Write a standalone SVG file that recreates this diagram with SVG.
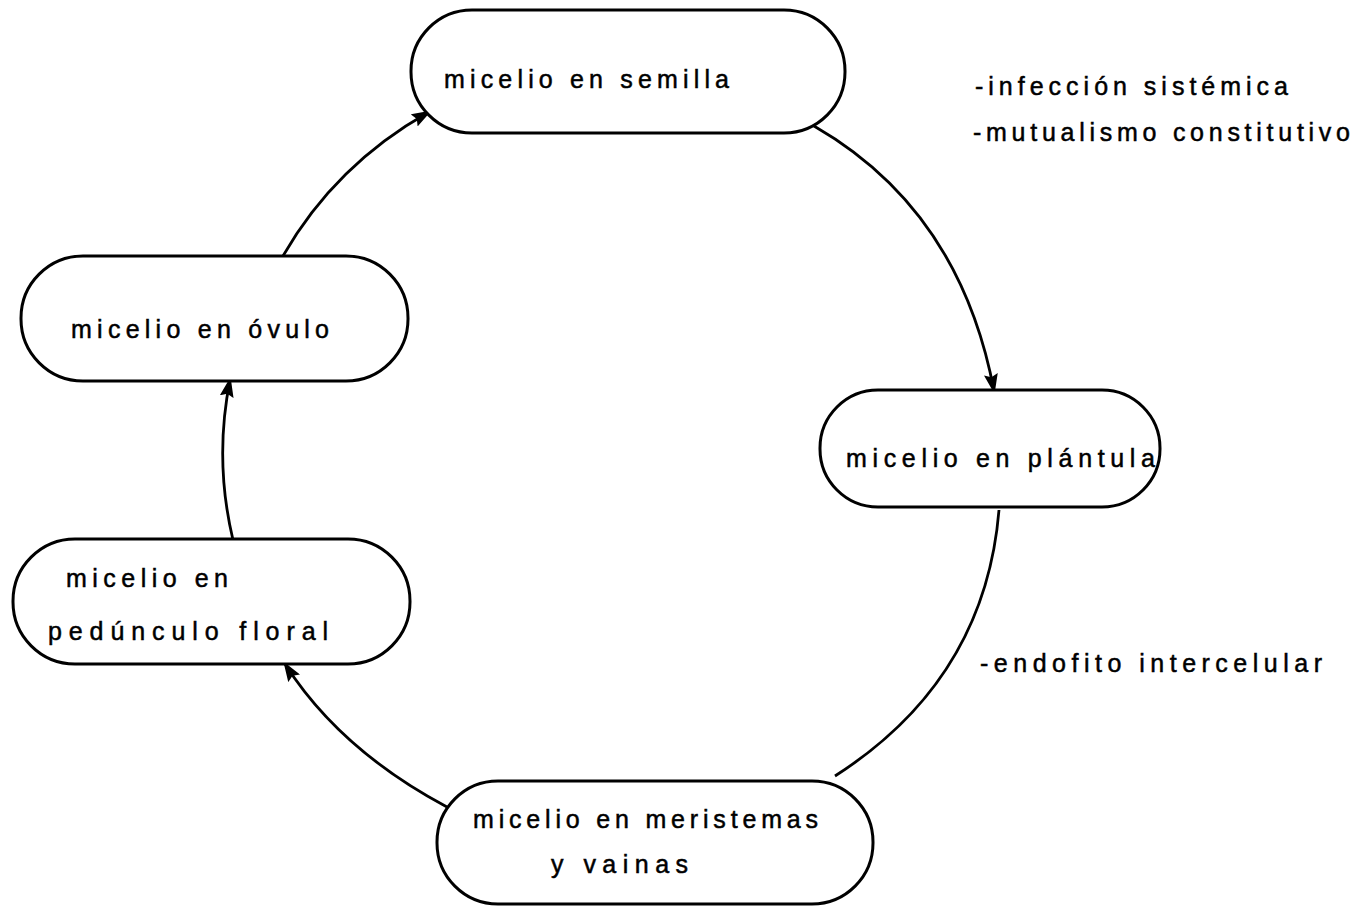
<svg xmlns="http://www.w3.org/2000/svg" width="1372" height="906" viewBox="0 0 1372 906">
<style>
.node{fill:#fff;stroke:#000;stroke-width:3}
.edge{fill:none;stroke:#000;stroke-width:2.8}
text{font-family:"Liberation Sans","DejaVu Sans",sans-serif;font-size:25px;fill:#000;stroke:#000;stroke-width:0.5}
</style>
<defs>
<marker id="arr" markerWidth="20" markerHeight="14" refX="17" refY="7" orient="auto" markerUnits="userSpaceOnUse">
<path d="M0,0 L20,7 L0,14 L3,7 Z" fill="#000"/>
</marker>
</defs>
<rect width="1372" height="906" fill="#fff"/>
<g id="connectors">
<path class="edge" d="M283,256 Q335,165 429,112" marker-end="url(#arr)"/>
<path class="edge" d="M814,126 Q960,210 994,391" marker-end="url(#arr)"/>
<path class="edge" d="M999,510 Q985,680 835,776"/>
<path class="edge" d="M447,807 Q340,750 285,664" marker-end="url(#arr)"/>
<path class="edge" d="M233,540 Q214,460 230,380" marker-end="url(#arr)"/>
</g>
<g id="node-semilla">
<rect class="node" x="411" y="10" width="434" height="123" rx="61" ry="61"/>
<text x="444" y="88" textLength="285" lengthAdjust="spacing">micelio en semilla</text>
</g>
<g id="node-ovulo">
<rect class="node" x="21" y="256" width="387" height="125" rx="62" ry="62"/>
<text x="71" y="338" textLength="258" lengthAdjust="spacing">micelio en óvulo</text>
</g>
<g id="node-plantula">
<rect class="node" x="820" y="390" width="340" height="117" rx="58" ry="58"/>
<text x="846" y="467" textLength="309" lengthAdjust="spacing">micelio en plántula</text>
</g>
<g id="node-pedunculo">
<rect class="node" x="13" y="539" width="397" height="125" rx="62" ry="62"/>
<text x="66" y="587" textLength="162" lengthAdjust="spacing">micelio en</text>
<text x="48" y="640" textLength="280" lengthAdjust="spacing">pedúnculo floral</text>
</g>
<g id="node-meristemas">
<rect class="node" x="437" y="781" width="436" height="123" rx="61" ry="61"/>
<text x="473" y="828" textLength="345" lengthAdjust="spacing">micelio en meristemas</text>
<text x="551" y="873" textLength="137" lengthAdjust="spacing">y vainas</text>
</g>
<g id="labels">
<text x="975" y="95" textLength="313" lengthAdjust="spacing">-infección sistémica</text>
<text x="973" y="141" textLength="377" lengthAdjust="spacing">-mutualismo constitutivo</text>
<text x="980" y="672" textLength="342" lengthAdjust="spacing">-endofito intercelular</text>
</g>
</svg>
